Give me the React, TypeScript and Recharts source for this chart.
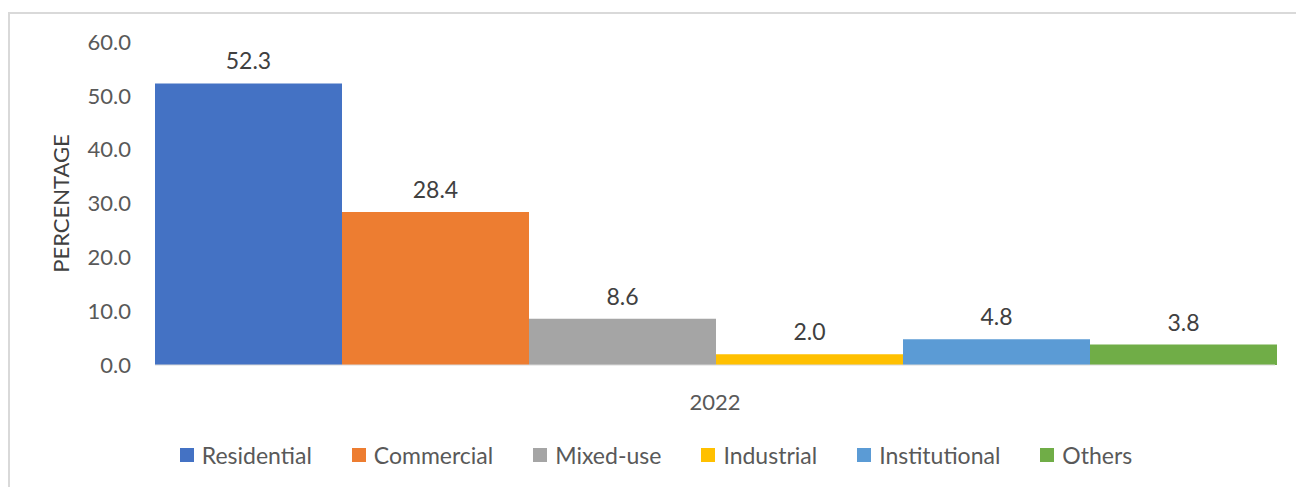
import { BarChart, Bar, XAxis, YAxis, Legend, LabelList } from 'recharts';

const years = ['2022'];
const seriesNames = ['Residential', 'Commercial', 'Mixed-use', 'Industrial', 'Institutional', 'Others'];
const seriesValues = [52.3, 28.4, 8.6, 2.0, 4.8, 3.8];
const seriesColors = ['#4472C4', '#ED7D31', '#A5A5A5', '#FFC000', '#5B9BD5', '#70AD47'];
const yTicks = [0, 10, 20, 30, 40, 50, 60];

const data = years.map((year) => {
  const row: Record<string, string | number> = { year };
  seriesNames.forEach((name, i) => {
    row[name] = seriesValues[i];
  });
  return row;
});

const font = 'Lato, "Open Sans", sans-serif';

// legend in series order (recharts would sort it otherwise)
function LegendBox() {
  return (
    <div
      style={{
        height: 30,
        display: 'flex',
        justifyContent: 'center',
        alignItems: 'center',
        fontFamily: font,
        fontSize: 23,
        color: '#595959',
      }}
    >
      {seriesNames.map((name, i) => (
        <div key={name} style={{ display: 'flex', alignItems: 'center', marginRight: i < seriesNames.length - 1 ? 40 : 0 }}>
          <span style={{ width: 14, height: 14, background: seriesColors[i], marginRight: 8, display: 'inline-block' }} />
          <span>{name}</span>
        </div>
      ))}
    </div>
  );
}

export default function App() {
  return (
    <div
      style={{
        marginTop: 4,
        width: 1292,
        height: 480,
        border: '2px solid #d9d9d9',
        background: '#fff',
        fontFamily: font,
      }}
    >
      <BarChart
        width={1292}
        height={480}
        data={data}
        barCategoryGap={0}
        barGap={0}
        margin={{ top: 28, right: 27, bottom: 24, left: 0 }}
      >
        <XAxis
          dataKey="year"
          tickLine={false}
          axisLine={{ stroke: '#d9d9d9' }}
          tick={{ fontSize: 22, fill: '#595959', fontFamily: font, dy: 21 }}
          height={75}
        />
        <YAxis
          domain={[0, 60]}
          ticks={yTicks}
          interval={0}
          width={145}
          axisLine={false}
          tickLine={false}
          tickFormatter={(v: number) => v.toFixed(1)}
          tick={{ fontSize: 22, fill: '#595959', fontFamily: font, dx: -16 }}
          label={{
            value: 'PERCENTAGE',
            angle: -90,
            position: 'insideLeft',
            dx: 46,
            style: { fontSize: 22, fill: '#404040', fontFamily: font, textAnchor: 'middle' },
          }}
        />
        <Legend
          verticalAlign="bottom"
          content={() => <LegendBox />}
          wrapperStyle={{ left: 0, width: 1292 }}
        />
        {seriesNames.map((name, i) => (
          <Bar key={name} dataKey={name} fill={seriesColors[i]} isAnimationActive={false}>
            <LabelList
              dataKey={name}
              position="top"
              offset={14}
              formatter={(v: number) => v.toFixed(1)}
              style={{ fontSize: 23, fill: '#404040', fontFamily: font }}
            />
          </Bar>
        ))}
      </BarChart>
    </div>
  );
}
